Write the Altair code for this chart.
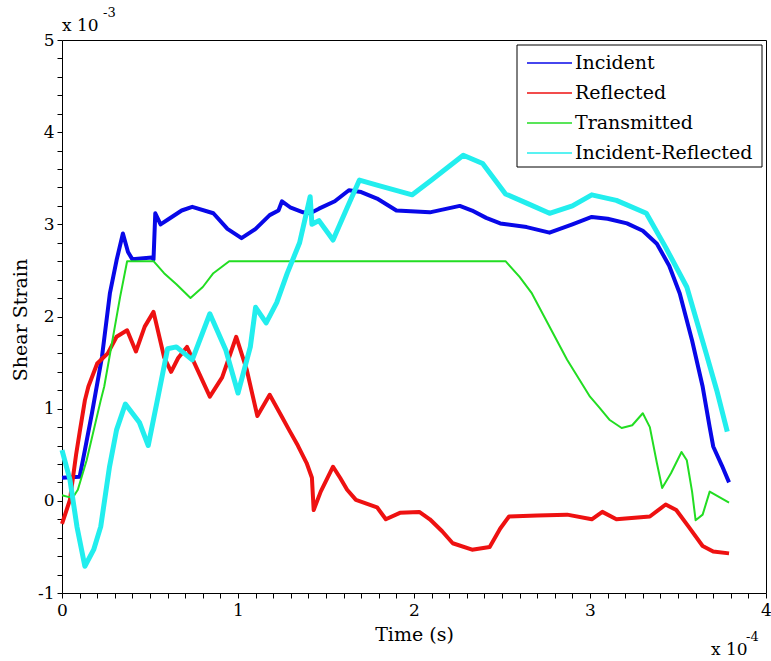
import altair as alt
import pandas as pd

# ---- data (time in units of 1e-4 s, strain in units of 1e-3) ----
inc_t = [0.00, 0.10, 0.13, 0.17, 0.227, 0.272, 0.31, 0.346, 0.375, 0.40, 0.51, 0.52, 0.53, 0.56, 0.60,
         0.68, 0.74, 0.86, 0.94, 1.02, 1.10, 1.18, 1.23, 1.25, 1.30, 1.37, 1.41, 1.46, 1.55, 1.63,
         1.70, 1.79, 1.90, 2.09, 2.26, 2.33, 2.41, 2.49, 2.64, 2.77, 2.90, 3.01, 3.10, 3.21, 3.30,
         3.38, 3.45, 3.51, 3.58, 3.64, 3.68, 3.70, 3.75, 3.79]
inc_s = [0.25, 0.26, 0.55, 0.95, 1.56, 2.25, 2.61, 2.90, 2.70, 2.62, 2.64, 2.62, 3.12, 3.00, 3.05,
         3.15, 3.19, 3.12, 2.95, 2.85, 2.95, 3.10, 3.15, 3.25, 3.18, 3.13, 3.12, 3.17, 3.25, 3.37,
         3.35, 3.28, 3.15, 3.13, 3.20, 3.15, 3.07, 3.01, 2.97, 2.91, 3.00, 3.08, 3.06, 3.01, 2.93,
         2.79, 2.55, 2.25, 1.74, 1.24, 0.80, 0.59, 0.38, 0.20]

ref_t = [0.00, 0.045, 0.08, 0.10, 0.13, 0.15, 0.20, 0.26, 0.31, 0.37, 0.42, 0.47, 0.52, 0.58, 0.62,
         0.66, 0.71, 0.77, 0.84, 0.91, 0.99, 1.05, 1.11, 1.18, 1.25, 1.29, 1.34, 1.39, 1.42, 1.43,
         1.47, 1.54, 1.58, 1.62, 1.67, 1.79, 1.84, 1.92, 2.03, 2.09, 2.16, 2.22, 2.33, 2.43, 2.49,
         2.54, 2.70, 2.87, 3.01, 3.07, 3.15, 3.34, 3.43, 3.49, 3.56, 3.64, 3.70, 3.79]
ref_s = [-0.25, 0.01, 0.50, 0.74, 1.09, 1.24, 1.49, 1.60, 1.78, 1.85, 1.62, 1.89, 2.05, 1.56, 1.40,
         1.55, 1.67, 1.42, 1.13, 1.34, 1.78, 1.42, 0.92, 1.15, 0.91, 0.77, 0.60, 0.41, 0.25, -0.10,
         0.10, 0.37, 0.25, 0.12, 0.01, -0.07, -0.20, -0.13, -0.12, -0.20, -0.33, -0.46, -0.53, -0.50, -0.30,
         -0.17, -0.16, -0.15, -0.20, -0.12, -0.20, -0.17, -0.04, -0.10, -0.28, -0.49, -0.55, -0.57]

tra_t = [0.00, 0.04, 0.07, 0.09, 0.14, 0.22, 0.24, 0.28, 0.33, 0.37, 0.52, 0.58, 0.65, 0.73, 0.80,
         0.86, 0.95, 2.52, 2.60, 2.67, 2.87, 3.00, 3.05, 3.11, 3.18, 3.24, 3.30, 3.34, 3.38, 3.41,
         3.46, 3.52, 3.55, 3.58, 3.60, 3.64, 3.68, 3.79]
tra_s = [0.06, 0.04, 0.06, 0.12, 0.44, 1.09, 1.24, 1.67, 2.21, 2.60, 2.60, 2.47, 2.35, 2.20, 2.32,
         2.47, 2.60, 2.60, 2.43, 2.25, 1.53, 1.13, 1.02, 0.88, 0.79, 0.82, 0.95, 0.80, 0.41, 0.14,
         0.30, 0.53, 0.44, 0.10, -0.21, -0.15, 0.10, -0.02]

ir_t = [0.00, 0.045, 0.085, 0.13, 0.18, 0.22, 0.27, 0.31, 0.36, 0.40, 0.44, 0.49, 0.55, 0.60, 0.65,
        0.74, 0.84, 0.93, 1.00, 1.07, 1.10, 1.16, 1.22, 1.28, 1.35, 1.41, 1.42, 1.46, 1.54, 1.62,
        1.69, 1.80, 1.99, 2.10, 2.28, 2.39, 2.52, 2.64, 2.77, 2.90, 3.01, 3.15, 3.32, 3.43, 3.55,
        3.66, 3.72, 3.78]
ir_s = [0.55, 0.23, -0.28, -0.71, -0.53, -0.28, 0.37, 0.77, 1.05, 0.95, 0.85, 0.60, 1.17, 1.65, 1.67,
        1.53, 2.03, 1.64, 1.17, 1.67, 2.10, 1.93, 2.15, 2.47, 2.80, 3.30, 3.00, 3.04, 2.83, 3.18,
        3.48, 3.42, 3.32, 3.48, 3.75, 3.66, 3.33, 3.23, 3.12, 3.20, 3.32, 3.26, 3.12, 2.75, 2.32,
        1.60, 1.20, 0.75]

series_names = ["Incident", "Reflected", "Transmitted", "Incident-Reflected"]
series_colors = ["#0808e8", "#ee1111", "#22dd22", "#22eeee"]
series_widths = [4, 4, 2, 5]
series_data = [(inc_t, inc_s), (ref_t, ref_s), (tra_t, tra_s), (ir_t, ir_s)]

W, H = 704, 553
FONT = "DejaVu Serif"
X0, X1, Y0, Y1 = 0, 4, -1, 5

# tick positions: minor every 0.1 on x, every 0.2 on y; labels only on integers
x_ticks = [round(X0 + i / 10, 1) for i in range(41)]
y_ticks = [round(Y0 + i / 5, 1) for i in range(31)]
int_label = "abs(datum.value - round(datum.value)) < 0.001 ? '' + round(datum.value) : ''"

xs = alt.Scale(domain=[X0, X1], nice=False, zero=False)
ys = alt.Scale(domain=[Y0, Y1], nice=False, zero=False)

x_axis = alt.Axis(values=x_ticks, labelExpr=int_label, labelOverlap=False,
                  title="Time (s)", ticks=True, tickSize=5, tickColor="black", tickWidth=1,
                  domain=False, grid=False,
                  labelFont=FONT, labelFontSize=17, labelPadding=4, labelFlush=False,
                  labelColor="black", titleFont=FONT, titleFontSize=19, titleFontWeight="normal",
                  titleColor="black", titleY=41, titleBaseline="middle")
y_axis = alt.Axis(values=y_ticks, labelExpr=int_label, labelOverlap=False,
                  title="Shear Strain", ticks=True, tickSize=5, tickColor="black", tickWidth=1,
                  domain=False, grid=False,
                  labelFont=FONT, labelFontSize=17, labelPadding=3, labelFlush=False,
                  labelColor="black", titleFont=FONT, titleFontSize=19, titleFontWeight="normal",
                  titleColor="black", titleX=-42, titleY=H / 2 + 3, titleBaseline="middle",
                  titleAngle=270)

layers = []
for (t, s), name, color, w in zip(series_data, series_names, series_colors, series_widths):
    df = pd.DataFrame({"t": t, "s": s})
    layers.append(
        alt.Chart(df).mark_line(color=color, strokeWidth=w, strokeJoin="round").encode(
            x=alt.X("t:Q", scale=xs, axis=x_axis),
            y=alt.Y("s:Q", scale=ys, axis=y_axis),
        )
    )

# legend
one = pd.DataFrame({"a": [0]})
layers.append(alt.Chart(one).mark_rect(fill="white", stroke="black", strokeWidth=1).encode(
    x=alt.value(455), x2=alt.value(700), y=alt.value(5), y2=alt.value(127)))
for i, (name, color) in enumerate(zip(series_names, series_colors)):
    yy = 23 + 30 * i
    layers.append(alt.Chart(one).mark_rule(color=color, strokeWidth=1.5).encode(
        x=alt.value(465), x2=alt.value(510), y=alt.value(yy)))
    layers.append(alt.Chart(one).mark_text(align="left", baseline="middle", font=FONT,
                                           fontSize=19, color="black").encode(
        x=alt.value(513), y=alt.value(yy), text=alt.value(name)))

# exponent annotations
for txt, xx, yy, fs in [("x 10", 0, -14, 17), ("-3", 41, -27, 13),
                        ("x 10", 649, 610, 17), ("-4", 684, 597, 13)]:
    layers.append(alt.Chart(one).mark_text(align="left", baseline="middle", font=FONT,
                                           fontSize=fs, color="black").encode(
        x=alt.value(xx), y=alt.value(yy), text=alt.value(txt)))

chart = alt.layer(*layers).properties(
    width=W, height=H,
    autosize=alt.AutoSizeParams(type="none"),
    padding={"left": 62, "top": 40, "right": 5, "bottom": 68},
    background="white",
).configure_view(stroke="black", strokeWidth=1)

chart.save("out.html", embed_options={"renderer": "svg", "actions": False})
